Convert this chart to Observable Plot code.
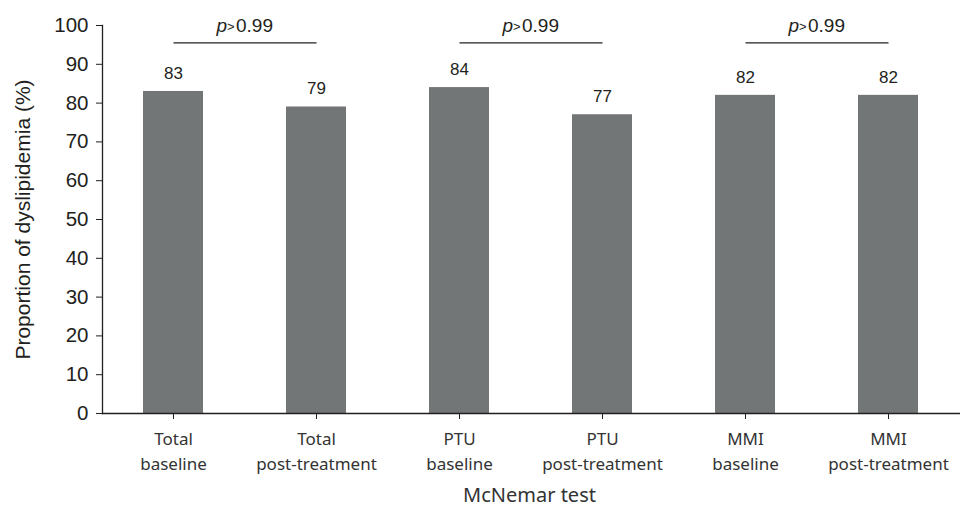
<!DOCTYPE html>
<html><head><meta charset="utf-8">
<script src="https://cdn.jsdelivr.net/npm/d3@7"></script>
<script src="https://cdn.jsdelivr.net/npm/@observablehq/plot@0.6"></script>
<style>body{margin:0;background:#fff}</style>
</head><body><div id="chart"></div>
<script>
// ---- data ----
const groups = ["Total", "Total", "PTU", "PTU", "MMI", "MMI"];
const timepoints = ["baseline", "post-treatment", "baseline", "post-treatment", "baseline", "post-treatment"];
const values = [83, 79, 84, 77, 82, 82];
const pairFirst = ["Total baseline", "PTU baseline", "MMI baseline"];
const pairSecond = ["Total post-treatment", "PTU post-treatment", "MMI post-treatment"];
const pValues = ["0.99", "0.99", "0.99"];
const bracketLevel = [95.5, 95.5, 95.5];
const pLabelLevel = [100, 100, 100];
const yTicks = [0, 10, 20, 30, 40, 50, 60, 70, 80, 90, 100];
const yLabel = "Proportion of dyslipidemia (%)";
const xLabel = "McNemar test";

const categories = groups.map((g, i) => g + " " + timepoints[i]);
const data = categories.map((c, i) => ({cat: c, group: groups[i], time: timepoints[i], value: values[i]}));
const pairs = pairFirst.map((a, i) => ({a, b: pairSecond[i], p: pValues[i], by: bracketLevel[i], py: pLabelLevel[i]}));

const W = 967, H = 506, ML = 102, MR = 7, MT = 25, MB = 93;
const step = (W - ML - MR) / categories.length;
const sans = "Liberation Sans, Arial, sans-serif";
const sans2 = "Noto Sans, sans-serif";

const chart = Plot.plot({
  width: W, height: H,
  marginLeft: ML, marginRight: MR, marginTop: MT, marginBottom: MB,
  style: {background: "#fff", overflow: "visible"},
  x: {domain: categories, paddingInner: 0.58, paddingOuter: 0.29, label: null},
  y: {domain: [0, 100], label: null},
  marks: [
    Plot.barY(data, {x: "cat", y: "value", fill: "#737676"}),
    Plot.frame({anchor: "left", stroke: "#231f20", strokeWidth: 1.3}),
    Plot.ruleY([0], {stroke: "#231f20", strokeWidth: 1.3}),
    Plot.axisY({ticks: yTicks, tickSize: 6, tickPadding: 8, fontSize: 20.5, fontFamily: sans, fill: "#231f20", stroke: "#231f20", label: null}),
    Plot.axisX({tickSize: 6, tickPadding: 8, fontSize: 17, fontFamily: sans2, fill: "#333", stroke: "#231f20", lineHeight: 1.47,
      tickFormat: (c) => { const i = categories.indexOf(c); return groups[i] + "\n" + timepoints[i]; }, label: null}),
    Plot.text(data, {x: "cat", y: "value", text: (d) => String(d.value), dy: -18, lineAnchor: "middle", fontSize: 17, fontFamily: sans, fill: "#231f20"}),
    Plot.link(pairs, {x1: "a", x2: "b", y1: "by", y2: "by", stroke: "#231f20", strokeWidth: 1.2}),
    Plot.text(pairs, {x: "a", y: "py", text: () => "p", dx: step / 2 - 18, textAnchor: "end", lineAnchor: "middle", fontSize: 19, fontStyle: "italic", fontFamily: sans, fill: "#231f20"}),
    Plot.text(pairs, {x: "a", y: "py", text: () => ">", dx: step / 2 - 18, dy: 1, textAnchor: "start", lineAnchor: "middle", fontSize: 13, fontFamily: sans, fill: "#231f20"}),
    Plot.text(pairs, {x: "a", y: "py", text: "p", dx: step / 2 - 9, textAnchor: "start", lineAnchor: "middle", fontSize: 19, fontFamily: sans, fill: "#231f20"}),
    Plot.text([yLabel], {text: (d) => d, frameAnchor: "left", rotate: -90, dx: -79, textAnchor: "middle", lineAnchor: "middle", fontSize: 21, fontFamily: sans, fill: "#231f20"}),
    Plot.text([xLabel], {text: (d) => d, frameAnchor: "bottom", dy: 82, dx: -2, textAnchor: "middle", lineAnchor: "middle", fontSize: 20, fontFamily: sans2, fill: "#333"})
  ]
});
document.getElementById("chart").appendChild(chart);
</script>
</body></html>
